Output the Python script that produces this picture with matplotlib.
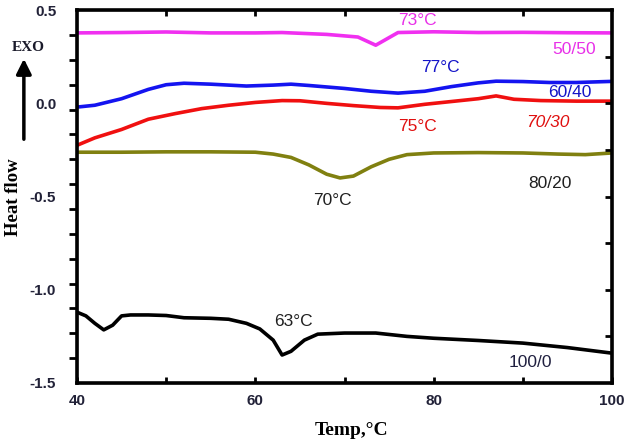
import numpy as np
import matplotlib
matplotlib.use("Agg")
import matplotlib.pyplot as plt

#%% data (temperature in C, heat flow)
t_5050 = [40, 45, 50, 55, 60, 63, 65, 68, 71.5, 73.5, 76, 80, 85, 90, 95, 100]
hf_5050 = [0.378, 0.38, 0.383, 0.378, 0.378, 0.38, 0.376, 0.37, 0.356, 0.312,
           0.38, 0.384, 0.38, 0.381, 0.379, 0.378]

t_6040 = [40, 42, 45, 48, 50, 52, 55, 59, 62, 64, 66, 70, 73, 76, 79, 82, 85,
          87, 90, 93, 96, 100]
hf_6040 = [-0.02, -0.01, 0.025, 0.075, 0.1, 0.108, 0.103, 0.093, 0.098, 0.103,
           0.096, 0.08, 0.065, 0.055, 0.065, 0.09, 0.11, 0.119, 0.117, 0.112,
           0.112, 0.118]

t_7030 = [40, 42, 45, 48, 51, 54, 57, 60, 63, 65, 68, 71, 74, 76, 79, 82, 85,
          87, 89, 92, 96, 100]
hf_7030 = [-0.225, -0.185, -0.14, -0.085, -0.055, -0.028, -0.01, 0.005, 0.015,
           0.014, 0.0, -0.012, -0.022, -0.024, -0.005, 0.01, 0.025, 0.04,
           0.022, 0.015, 0.012, 0.012]

t_8020 = [40, 45, 50, 55, 60, 62, 64, 66, 68, 69.5, 71, 73, 75, 77, 80, 85, 90,
          94, 97, 100]
hf_8020 = [-0.262, -0.262, -0.26, -0.26, -0.262, -0.272, -0.29, -0.33, -0.38,
           -0.40, -0.39, -0.34, -0.3, -0.275, -0.266, -0.264, -0.266, -0.272,
           -0.275, -0.266]

t_1000 = [40, 41, 42, 43, 44, 45, 46, 48, 50, 52, 55, 57, 59, 60.5, 62, 63, 64,
          65.5, 67, 70, 73.5, 77, 80, 85, 90, 95, 100]
hf_1000 = [-1.12, -1.14, -1.18, -1.215, -1.19, -1.14, -1.135, -1.135, -1.138,
           -1.15, -1.153, -1.158, -1.18, -1.21, -1.27, -1.35, -1.33, -1.27,
           -1.238, -1.232, -1.232, -1.25, -1.26, -1.272, -1.286, -1.31, -1.34]

x_ticks = [40, 60, 80, 100]
y_ticks = [0.5, 0.0, -0.5, -1.0, -1.5]

#%% figure
fig = plt.figure(figsize=(6.28, 4.42), dpi=100)
ax = fig.add_axes([0.1226, 0.1335, 0.852, 0.8435])

lw = 2.6
ax.plot(t_5050, hf_5050, color='#f030f0', lw=lw)
ax.plot(t_6040, hf_6040, color='#1414f0', lw=lw)
ax.plot(t_7030, hf_7030, color='#f01010', lw=lw)
ax.plot(t_8020, hf_8020, color='#808010', lw=lw)
ax.plot(t_1000, hf_1000, color='black', lw=lw)

ax.set_xlim(40, 100)
ax.set_ylim(-1.5, 0.5)

for s in ax.spines.values():
    s.set_linewidth(2.6)

tick_font = dict(family='Liberation Sans', weight='bold', size=11)

# x axis: labels every 20, ticks every 10 pointing in
ax.set_xticks(x_ticks)
ax.set_xticks([50, 70, 90], minor=True)
ax.set_xticklabels([str(v) for v in x_ticks], fontdict=tick_font, color='#222238')
ax.tick_params(axis='x', which='both', direction='in', length=4, width=2,
               pad=8, top=False)

# y axis: labels only on major ticks, outward marks every 2/15
ax.set_yticks(y_ticks)
ax.set_yticklabels([f"{v:.1f}" for v in y_ticks], fontdict=tick_font, color='#222238')
ax.set_yticks(np.linspace(-1.5, 0.5, 16)[1:-1], minor=True)
ax.tick_params(axis='y', which='major', length=0, pad=15, right=False)
ax.tick_params(axis='y', which='minor', direction='out', length=6, width=2,
               right=False)

# right side ticks
axr = ax.twinx()
axr.set_ylim(-1.5, 0.5)
axr.set_yticks([-1.25, -1.0, -0.75, -0.5, -0.25, 0.0, 0.25])
axr.set_yticklabels([])
axr.tick_params(axis='y', direction='in', length=5, width=2)

# top ticks
axt = ax.twiny()
axt.set_xlim(40, 100)
axt.set_xticks([50, 60, 70, 90])
axt.set_xticklabels([])
axt.tick_params(axis='x', direction='in', length=4, width=2)

# labels on the curves
lab = dict(family='Liberation Sans', size=12.5, ha='center', va='center')
ax.text(78.2, 0.447, '73°C', color='#e830e8', **lab)
ax.text(95.8, 0.29, '50/50', color='#e830e8', **lab)
ax.text(80.7, 0.19, '77°C', color='#1414c8', **lab)
ax.text(95.3, 0.06, '60/40', color='#1414c8', **lab)
ax.text(78.2, -0.125, '75°C', color='#e01010', **lab)
ax.text(92.8, -0.10, '70/30', color='#e01010', style='italic', **lab)
ax.text(68.7, -0.52, '70°C', color='#202020', **lab)
ax.text(93.0, -0.43, '80/20', color='#202020', **lab)
ax.text(64.3, -1.17, '63°C', color='#202020', **lab)
ax.text(90.8, -1.39, '100/0', color='#202040', **lab)

# axis titles and the EXO arrow
fig.text(0.022, 0.555, 'Heat flow', rotation=90, ha='center', va='center',
         family='Liberation Serif', weight='bold', size=13.5)
fig.text(0.559, 0.027, 'Temp,°C', ha='center', va='center',
         family='Liberation Serif', weight='bold', size=14)
fig.text(0.045, 0.892, 'EXO', ha='center', va='center',
         family='Liberation Serif', weight='bold', size=11, color='#1a1a2a')
fig.add_artist(matplotlib.patches.FancyArrowPatch(
    (0.038, 1 - 142 / 442), (0.038, 1 - 56 / 442), transform=fig.transFigure,
    arrowstyle='-|>,head_length=6,head_width=3', lw=2.5, color='black',
    mutation_scale=1.5))

fig.savefig('out.png', dpi=100)
